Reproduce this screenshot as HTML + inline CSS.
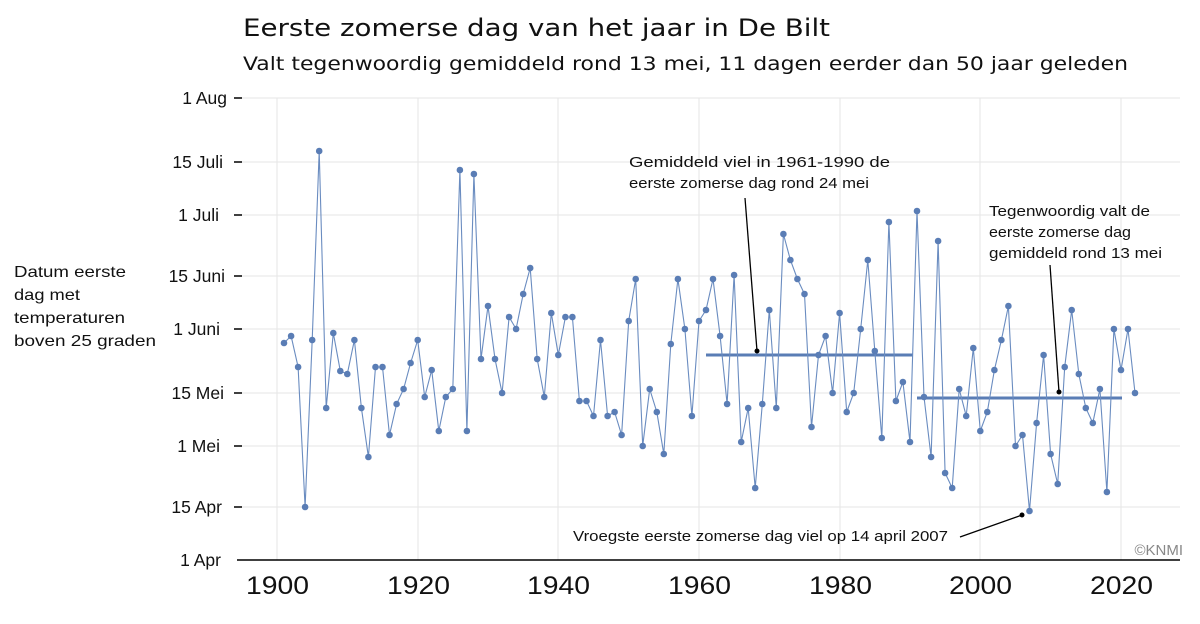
<!DOCTYPE html>
<html><head><meta charset="utf-8"><style>
body{margin:0;background:#fff;width:1200px;height:619px;overflow:hidden;font-family:"Liberation Sans",sans-serif}
</style></head><body>
<svg width="1200" height="619" xmlns="http://www.w3.org/2000/svg" font-family="Liberation Sans, sans-serif">
<defs><marker id="m" markerUnits="userSpaceOnUse" markerWidth="8" markerHeight="8" refX="4" refY="4"><circle cx="4" cy="4" r="3.3" fill="#5a7db5"/></marker></defs>
<text x="243" y="36" font-size="24" fill="#111" font-family="DejaVu Sans, sans-serif" textLength="587" lengthAdjust="spacingAndGlyphs">Eerste zomerse dag van het jaar in De Bilt</text>
<text x="243" y="70" font-size="19" fill="#111" font-family="DejaVu Sans, sans-serif" textLength="885" lengthAdjust="spacingAndGlyphs">Valt tegenwoordig gemiddeld rond 13 mei, 11 dagen eerder dan 50 jaar geleden</text>
<g stroke="#e6e6e6" stroke-width="1">
<line x1="237" x2="1180" y1="98" y2="98"/><line x1="237" x2="1180" y1="162" y2="162"/><line x1="237" x2="1180" y1="215" y2="215"/><line x1="237" x2="1180" y1="276" y2="276"/><line x1="237" x2="1180" y1="329" y2="329"/><line x1="237" x2="1180" y1="393" y2="393"/><line x1="237" x2="1180" y1="446" y2="446"/><line x1="237" x2="1180" y1="507" y2="507"/>
<line x1="277" x2="277" y1="98" y2="560"/><line x1="418" x2="418" y1="98" y2="560"/><line x1="558" x2="558" y1="98" y2="560"/><line x1="699" x2="699" y1="98" y2="560"/><line x1="840" x2="840" y1="98" y2="560"/><line x1="980" x2="980" y1="98" y2="560"/><line x1="1121" x2="1121" y1="98" y2="560"/>
</g>
<line x1="237" x2="1180" y1="560" y2="560" stroke="#000" stroke-width="1.5"/>
<g stroke="#000" stroke-width="1.5">
<line x1="234" x2="242" y1="98" y2="98"/><line x1="234" x2="242" y1="162" y2="162"/><line x1="234" x2="242" y1="215" y2="215"/><line x1="234" x2="242" y1="276" y2="276"/><line x1="234" x2="242" y1="329" y2="329"/><line x1="234" x2="242" y1="393" y2="393"/><line x1="234" x2="242" y1="446" y2="446"/><line x1="234" x2="242" y1="507" y2="507"/>
</g>
<g font-size="17.5" fill="#111" text-anchor="end">
<text x="227" y="104">1 Aug</text><text x="223" y="168">15 Juli</text><text x="219" y="221">1 Juli</text><text x="225" y="282">15 Juni</text><text x="220" y="335">1 Juni</text><text x="224" y="399">15 Mei</text><text x="220" y="452">1 Mei</text><text x="222" y="513">15 Apr</text><text x="221" y="566">1 Apr</text>
</g>
<g font-size="25" fill="#111">
<text x="246" y="594" textLength="63" lengthAdjust="spacingAndGlyphs">1900</text><text x="387" y="594" textLength="63" lengthAdjust="spacingAndGlyphs">1920</text><text x="527" y="594" textLength="63" lengthAdjust="spacingAndGlyphs">1940</text><text x="668" y="594" textLength="63" lengthAdjust="spacingAndGlyphs">1960</text><text x="809" y="594" textLength="63" lengthAdjust="spacingAndGlyphs">1980</text><text x="949" y="594" textLength="63" lengthAdjust="spacingAndGlyphs">2000</text><text x="1090" y="594" textLength="63" lengthAdjust="spacingAndGlyphs">2020</text>
</g>
<g font-size="16" fill="#111">
<text x="14" y="277" textLength="112" lengthAdjust="spacingAndGlyphs">Datum eerste</text><text x="14" y="300" textLength="66" lengthAdjust="spacingAndGlyphs">dag met</text><text x="14" y="323" textLength="111" lengthAdjust="spacingAndGlyphs">temperaturen</text><text x="14" y="346" textLength="142" lengthAdjust="spacingAndGlyphs">boven 25 graden</text>
</g>
<g font-size="15" fill="#111">
<text x="629" y="167" textLength="261" lengthAdjust="spacingAndGlyphs">Gemiddeld viel in 1961-1990 de</text><text x="629" y="188" textLength="240" lengthAdjust="spacingAndGlyphs">eerste zomerse dag rond 24 mei</text>
<text x="989" y="216" textLength="161" lengthAdjust="spacingAndGlyphs">Tegenwoordig valt de</text><text x="989" y="237" textLength="142" lengthAdjust="spacingAndGlyphs">eerste zomerse dag</text><text x="989" y="258" textLength="173" lengthAdjust="spacingAndGlyphs">gemiddeld rond 13 mei</text>
<text x="573" y="541" textLength="375" lengthAdjust="spacingAndGlyphs">Vroegste eerste zomerse dag viel op 14 april 2007</text>
</g>
<text x="1183" y="555" font-size="15" fill="#888" text-anchor="end">©KNMI</text>
<g stroke="#000" stroke-width="1.3">
<line x1="745" y1="198" x2="757" y2="351"/><line x1="1050" y1="265" x2="1059" y2="392"/><line x1="960" y1="537" x2="1022" y2="515"/>
</g>
<g fill="#000"><circle cx="757" cy="351" r="2.5"/><circle cx="1059" cy="392" r="2.5"/><circle cx="1022" cy="515" r="2.5"/></g>
<g stroke="#5a7db5" stroke-width="3">
<line x1="706" x2="913" y1="355" y2="355"/><line x1="917" x2="1122" y1="398" y2="398"/>
</g>
<polyline fill="none" stroke="#6a8cc0" stroke-width="1.1" marker-start="url(#m)" marker-mid="url(#m)" marker-end="url(#m)" points="284.0,343 291.1,336 298.1,367 305.1,507 312.2,340 319.2,151 326.2,408 333.3,333 340.3,371 347.3,374 354.4,340 361.4,408 368.4,457 375.5,367 382.5,367 389.5,435 396.6,404 403.6,389 410.6,363 417.7,340 424.7,397 431.7,370 438.8,431 445.8,397 452.8,389 459.9,170 466.9,431 473.9,174 481.0,359 488.0,306 495.0,359 502.1,393 509.1,317 516.1,329 523.2,294 530.2,268 537.2,359 544.3,397 551.3,313 558.3,355 565.4,317 572.4,317 579.4,401 586.5,401 593.5,416 600.5,340 607.6,416 614.6,412 621.6,435 628.7,321 635.7,279 642.7,446 649.7,389 656.8,412 663.8,454 670.8,344 677.9,279 684.9,329 691.9,416 699.0,321 706.0,310 713.0,279 720.1,336 727.1,404 734.1,275 741.2,442 748.2,408 755.2,488 762.3,404 769.3,310 776.3,408 783.4,234 790.4,260 797.4,279 804.5,294 811.5,427 818.5,355 825.6,336 832.6,393 839.6,313 846.7,412 853.7,393 860.7,329 867.8,260 874.8,351 881.8,438 888.9,222 895.9,401 902.9,382 910.0,442 917.0,211 924.0,397 931.1,457 938.1,241 945.1,473 952.2,488 959.2,389 966.2,416 973.3,348 980.3,431 987.3,412 994.4,370 1001.4,340 1008.4,306 1015.5,446 1022.5,435 1029.5,511 1036.6,423 1043.6,355 1050.6,454 1057.7,484 1064.7,367 1071.7,310 1078.8,374 1085.8,408 1092.8,423 1099.9,389 1106.9,492 1113.9,329 1121.0,370 1128.0,329 1135.0,393"/>
</svg>
</body></html>
